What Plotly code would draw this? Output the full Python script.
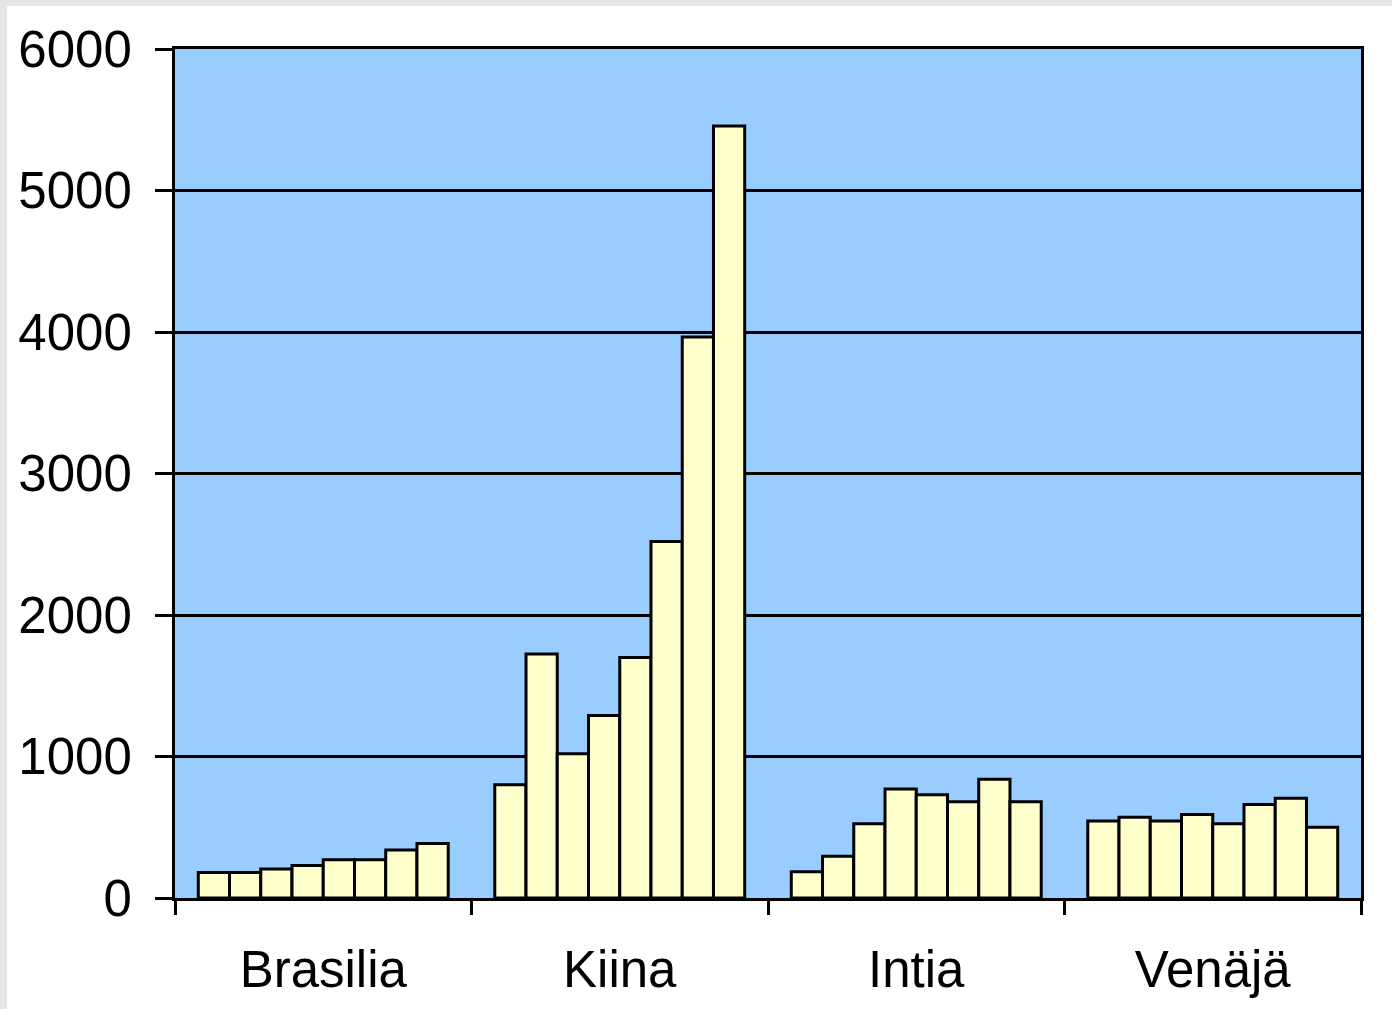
import plotly.graph_objects as go

# Maat (x-akselin ryhmät)
maat = ["Brasilia", "Kiina", "Intia", "Venäjä"]

# Kahdeksan peräkkäistä arvoa kullekin maalle
brasilia = [180, 180, 205, 230, 270, 270, 340, 385]
kiina = [800, 1725, 1020, 1290, 1700, 2520, 3965, 5455]
intia = [185, 295, 525, 770, 730, 680, 840, 680]
venaja = [545, 570, 545, 590, 525, 660, 705, 500]

y_ticks = [0, 1000, 2000, 3000, 4000, 5000, 6000]

sarjat = list(zip(brasilia, kiina, intia, venaja))

fig = go.Figure()
for i, arvot in enumerate(sarjat):
    fig.add_trace(go.Bar(
        x=maat,
        y=list(arvot),
        name=f"Sarja {i + 1}",
        marker=dict(color="#FFFFCC", line=dict(color="#000000", width=3)),
        showlegend=False,
    ))

fig.update_layout(
    width=1392,
    height=1009,
    barmode="group",
    bargap=0.157,
    bargroupgap=0,
    plot_bgcolor="#99CCFF",
    paper_bgcolor="#FFFFFF",
    margin=dict(l=175, r=31, t=49, b=111, autoexpand=False),
    font=dict(family="Liberation Sans, Arial, sans-serif", color="#000000", size=51),
    shapes=[
        # harmaa reunus vasemmalla ja ylhäällä
        dict(type="rect", xref="paper", yref="paper",
             x0=-175 / 1186, x1=-168 / 1186, y0=-111 / 849, y1=1 + 49 / 849,
             fillcolor="#E4E5E4", line=dict(width=0), layer="below"),
        dict(type="rect", xref="paper", yref="paper",
             x0=-175 / 1186, x1=1 + 31 / 1186, y0=1 + 43 / 849, y1=1 + 49 / 849,
             fillcolor="#E4E5E4", line=dict(width=0), layer="below"),
    ],
)

fig.update_xaxes(
    type="category",
    showline=True, linecolor="#000000", linewidth=3, mirror=True,
    ticks="outside", tickson="boundaries", ticklen=14, tickwidth=3, tickcolor="#000000",
    tickfont=dict(size=51),
    showgrid=False,
    ticklabelstandoff=25,
)

fig.update_yaxes(
    range=[0, 6000],
    tickvals=y_ticks,
    ticktext=[str(v) for v in y_ticks],
    showline=True, linecolor="#000000", linewidth=3, mirror=True,
    ticks="outside", ticklen=17, tickwidth=2.5, tickcolor="#000000",
    showgrid=True, gridcolor="#000000", gridwidth=2.5,
    tickfont=dict(size=51),
    ticklabelstandoff=13,
    zeroline=False,
)

fig.write_html("out.html")
